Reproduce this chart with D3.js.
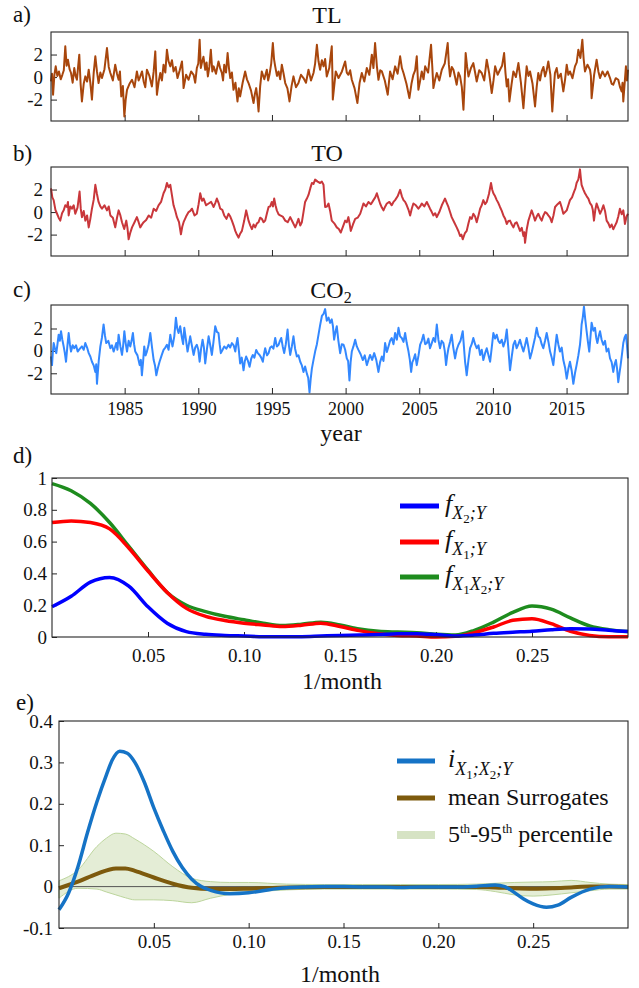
<html>
<head>
  <meta charset="utf-8">
  <title>TL TO CO2 spectra</title>
  <script src="https://cdnjs.cloudflare.com/ajax/libs/d3/7.8.5/d3.min.js"></script>
  <style>
    body { margin: 0; background: #fff; }
  </style>
</head>
<body>
<script>

// ---- data: standardized monthly anomalies [year, value] ----
var tlSeries = [[1980.00,-0.39],[1980.07,0.3],[1980.14,-1.57],[1980.23,0.2],[1980.32,0.95],[1980.43,0.1],[1980.54,0.5],[1980.66,-0.2],[1980.77,0.2],[1980.87,0.6],[1980.97,2.73],[1981.06,1.0],[1981.15,1.54],[1981.26,0.7],[1981.36,0.36],[1981.47,-0.5],[1981.58,0.8],[1981.67,0.1],[1981.76,-0.24],[1981.84,0.9],[1981.92,1.99],[1982.01,-0.6],[1982.10,-2.16],[1982.22,-0.6],[1982.33,0.06],[1982.45,-0.4],[1982.56,0.65],[1982.67,-0.5],[1982.78,-2.0],[1982.90,0.4],[1983.01,1.84],[1983.12,0.5],[1983.23,-0.53],[1983.35,0.4],[1983.46,-0.09],[1983.63,0.7],[1983.80,2.58],[1983.92,0.9],[1984.03,0.36],[1984.20,-0.3],[1984.36,1.1],[1984.48,0.3],[1984.59,-0.24],[1984.68,0.5],[1984.77,-1.72],[1984.88,-0.8],[1984.98,-3.5],[1985.07,-2.0],[1985.16,-1.13],[1985.33,-0.6],[1985.50,-0.24],[1985.67,-0.9],[1985.83,0.5],[1985.95,-0.3],[1986.06,0.06],[1986.18,0.5],[1986.29,-0.39],[1986.40,-0.9],[1986.51,0.65],[1986.68,0.1],[1986.85,-0.83],[1986.97,0.5],[1987.08,2.28],[1987.14,0.2],[1987.19,-1.57],[1987.31,-0.4],[1987.42,0.36],[1987.53,-0.3],[1987.64,1.1],[1987.76,0.4],[1987.87,2.43],[1987.98,1.4],[1988.10,0.95],[1988.21,1.5],[1988.32,0.5],[1988.46,0.9],[1988.59,-0.09],[1988.74,0.6],[1988.89,1.39],[1988.95,0.3],[1989.00,-0.98],[1989.17,0.2],[1989.34,-0.24],[1989.51,0.5],[1989.68,0.2],[1989.79,-0.5],[1989.90,0.8],[1990.00,1.2],[1990.09,3.32],[1990.17,0.8],[1990.24,1.24],[1990.35,1.8],[1990.47,0.65],[1990.56,1.3],[1990.65,0.06],[1990.75,0.9],[1990.85,2.43],[1990.95,0.5],[1991.04,0.95],[1991.20,0.3],[1991.37,1.39],[1991.48,0.8],[1991.60,0.36],[1991.68,-0.3],[1991.76,1.1],[1991.88,0.4],[1991.99,2.13],[1992.08,0.8],[1992.17,-0.09],[1992.28,0.4],[1992.39,-1.13],[1992.52,-0.5],[1992.66,-2.16],[1992.75,-1.0],[1992.84,-1.72],[1993.01,-0.5],[1993.18,0.5],[1993.30,-0.2],[1993.41,-0.53],[1993.58,-1.2],[1993.75,-2.31],[1993.84,-1.5],[1993.93,-0.98],[1994.01,-1.8],[1994.09,-3.05],[1994.20,-0.8],[1994.31,0.5],[1994.48,-0.2],[1994.65,0.65],[1994.74,-0.3],[1994.83,0.2],[1994.95,1.2],[1995.06,3.02],[1995.14,1.6],[1995.22,0.95],[1995.34,0.1],[1995.45,0.5],[1995.56,-0.2],[1995.67,1.1],[1995.79,0.3],[1995.90,-0.53],[1996.05,-1.0],[1996.19,-2.16],[1996.33,-0.8],[1996.46,0.06],[1996.63,-0.9],[1996.80,-0.53],[1996.97,0.2],[1997.14,-0.09],[1997.31,-0.5],[1997.48,0.65],[1997.65,-0.3],[1997.82,0.36],[1997.93,1.2],[1998.05,2.87],[1998.16,1.4],[1998.27,0.65],[1998.39,1.5],[1998.50,0.95],[1998.61,1.6],[1998.72,0.06],[1998.89,0.8],[1999.06,2.73],[1999.10,0.5],[1999.13,-2.0],[1999.33,0.5],[1999.52,-0.09],[1999.75,0.5],[1999.97,1.39],[2000.08,0.4],[2000.19,0.2],[2000.31,0.6],[2000.42,-0.24],[2000.61,-1.0],[2000.80,-2.31],[2000.95,-0.5],[2001.10,0.36],[2001.27,-0.4],[2001.44,0.8],[2001.61,0.2],[2001.78,1.99],[2001.89,0.8],[2002.00,3.02],[2002.12,1.0],[2002.23,-0.24],[2002.35,0.6],[2002.46,0.5],[2002.66,-0.3],[2002.86,-1.57],[2002.94,-0.5],[2003.02,0.5],[2003.19,-0.2],[2003.36,0.95],[2003.53,0.3],[2003.70,1.84],[2003.82,0.8],[2003.93,0.36],[2004.13,-0.6],[2004.33,-1.87],[2004.47,-0.6],[2004.60,0.2],[2004.72,0.6],[2004.83,1.84],[2004.89,0.2],[2004.94,-1.13],[2005.06,-0.3],[2005.17,0.5],[2005.29,-0.2],[2005.40,0.95],[2005.60,0.4],[2005.80,2.87],[2005.88,1.0],[2005.96,-0.98],[2006.08,-0.2],[2006.19,0.36],[2006.36,-0.3],[2006.53,0.65],[2006.73,1.2],[2006.93,3.02],[2007.01,1.1],[2007.09,0.06],[2007.21,0.9],[2007.32,0.65],[2007.43,0.0],[2007.54,-0.68],[2007.66,0.4],[2007.77,0.06],[2007.89,-0.9],[2008.00,-2.9],[2008.08,-0.5],[2008.15,2.13],[2008.25,0.9],[2008.34,0.06],[2008.51,0.8],[2008.67,1.24],[2008.79,0.4],[2008.90,-0.39],[2009.07,0.6],[2009.24,0.36],[2009.41,-0.3],[2009.58,1.54],[2009.75,0.3],[2009.92,-1.42],[2010.04,-0.3],[2010.15,0.95],[2010.32,0.2],[2010.48,0.65],[2010.62,1.0],[2010.76,2.13],[2010.85,0.4],[2010.94,-0.83],[2011.03,-0.2],[2011.12,-2.16],[2011.26,-0.7],[2011.39,0.5],[2011.56,0.0],[2011.73,1.24],[2011.90,-0.5],[2012.07,-2.76],[2012.18,-0.8],[2012.29,0.95],[2012.41,0.1],[2012.52,0.5],[2012.69,-0.6],[2012.86,-2.61],[2012.97,-0.9],[2013.08,0.36],[2013.20,-0.3],[2013.31,0.5],[2013.43,0.9],[2013.54,0.06],[2013.65,0.6],[2013.76,1.39],[2013.90,0.2],[2014.03,-3.05],[2014.12,-1.2],[2014.21,0.36],[2014.33,0.8],[2014.44,-0.09],[2014.61,0.3],[2014.78,-1.27],[2014.90,-0.2],[2015.01,1.1],[2015.12,0.2],[2015.23,0.5],[2015.40,-0.1],[2015.57,0.95],[2015.69,1.3],[2015.80,2.43],[2015.94,1.7],[2016.07,3.32],[2016.16,1.6],[2016.25,0.5],[2016.42,1.1],[2016.59,0.65],[2016.65,0.1],[2016.70,-1.87],[2016.87,0.2],[2017.04,1.54],[2017.16,0.5],[2017.27,-0.09],[2017.44,0.5],[2017.61,0.06],[2017.78,0.5],[2017.95,-0.09],[2018.06,-0.6],[2018.17,-0.68],[2018.34,-0.1],[2018.51,-0.24],[2018.63,-0.9],[2018.74,-1.27],[2018.80,-0.5],[2018.85,-2.16],[2018.94,-0.6],[2019.03,0.95],[2019.10,-0.3],[2019.17,0.65]];

var toSeries = [[1980.00,2.1],[1980.09,1.3],[1980.18,1.06],[1980.30,0.2],[1980.41,-0.15],[1980.52,-0.5],[1980.63,-0.76],[1980.75,-0.1],[1980.86,0.15],[1980.97,0.6],[1981.09,0.45],[1981.15,0.9],[1981.20,-0.3],[1981.31,0.5],[1981.42,0.3],[1981.54,0.6],[1981.65,-0.15],[1981.80,0.4],[1981.94,1.82],[1982.02,0.3],[1982.10,-0.45],[1982.22,0.1],[1982.33,-0.76],[1982.45,-0.3],[1982.56,-1.36],[1982.67,-0.6],[1982.78,0.3],[1982.90,1.1],[1983.01,2.42],[1983.12,1.6],[1983.23,0.9],[1983.35,0.5],[1983.46,0.3],[1983.63,0.6],[1983.80,0.15],[1983.92,0.5],[1984.03,-0.3],[1984.20,-0.5],[1984.36,-1.36],[1984.48,-0.5],[1984.59,0.15],[1984.71,-0.3],[1984.82,-0.9],[1984.97,-1.5],[1985.11,-0.76],[1985.19,-1.4],[1985.27,-2.42],[1985.39,-1.8],[1985.50,-1.36],[1985.67,-0.9],[1985.83,-0.45],[1985.95,-0.9],[1986.06,-1.36],[1986.18,-1.1],[1986.29,-0.9],[1986.46,-0.7],[1986.63,-0.3],[1986.80,-0.5],[1986.97,0.3],[1987.14,0.1],[1987.30,0.6],[1987.47,0.9],[1987.64,1.67],[1987.76,2.0],[1987.87,2.58],[1987.99,2.2],[1988.10,2.42],[1988.21,1.5],[1988.32,0.6],[1988.44,0.1],[1988.55,-0.45],[1988.69,-0.9],[1988.82,-1.97],[1988.91,-1.3],[1989.00,-0.9],[1989.17,-0.4],[1989.34,0],[1989.46,0.1],[1989.57,0.3],[1989.74,-0.3],[1989.90,-0.15],[1990.02,0.7],[1990.13,1.67],[1990.25,1.0],[1990.36,1.2],[1990.53,0.6],[1990.70,0.76],[1990.87,0.9],[1991.04,0.45],[1991.15,0.8],[1991.26,1.2],[1991.38,0.8],[1991.49,0.3],[1991.63,0.2],[1991.76,-0.3],[1991.91,-0.6],[1992.05,-0.15],[1992.17,-0.4],[1992.28,-0.76],[1992.40,-1.2],[1992.51,-1.67],[1992.62,-2.0],[1992.73,-2.27],[1992.85,-1.9],[1992.96,-1.67],[1993.11,-0.8],[1993.25,0.15],[1993.33,-0.3],[1993.41,-0.76],[1993.53,-1.2],[1993.64,-1.52],[1993.75,-1.1],[1993.86,-1.36],[1993.98,-1.0],[1994.09,-0.9],[1994.20,-0.5],[1994.31,-0.6],[1994.43,-0.9],[1994.54,-0.76],[1994.66,-0.1],[1994.77,0.45],[1994.88,0.5],[1994.99,0.9],[1995.07,0.5],[1995.15,1.2],[1995.24,0.6],[1995.33,0.15],[1995.45,-0.2],[1995.56,-0.3],[1995.73,-0.4],[1995.90,-0.76],[1996.07,-0.9],[1996.24,-0.45],[1996.41,-0.9],[1996.58,-1.36],[1996.69,-1.0],[1996.80,-0.6],[1996.92,-1.2],[1997.03,-0.9],[1997.14,0.0],[1997.25,0.9],[1997.37,1.2],[1997.48,1.52],[1997.60,2.1],[1997.71,2.58],[1997.82,2.5],[1997.93,2.88],[1998.10,2.7],[1998.27,2.58],[1998.39,2.7],[1998.50,2.42],[1998.56,1.3],[1998.61,0.45],[1998.73,0.5],[1998.84,0.76],[1998.95,0.1],[1999.06,-0.76],[1999.23,-1.0],[1999.40,-1.36],[1999.54,-1.5],[1999.67,-1.82],[1999.82,-1.3],[1999.97,-0.76],[2000.08,-0.9],[2000.19,-0.45],[2000.27,-1.0],[2000.35,-1.67],[2000.50,-1.1],[2000.65,-0.6],[2000.82,-0.5],[2000.99,-0.15],[2001.10,0.3],[2001.21,0.76],[2001.38,0.5],[2001.55,0.9],[2001.72,0.7],[2001.89,1.06],[2002.01,1.3],[2002.12,1.67],[2002.23,1.2],[2002.34,0.76],[2002.46,0.4],[2002.57,0.15],[2002.69,0.5],[2002.80,0.76],[2002.97,0.9],[2003.13,0.6],[2003.25,0.9],[2003.36,1.06],[2003.53,1.4],[2003.70,1.97],[2003.82,1.4],[2003.93,1.06],[2004.04,0.9],[2004.15,0.6],[2004.27,0.2],[2004.38,-0.3],[2004.49,0.3],[2004.60,0.76],[2004.77,0.6],[2004.94,0.3],[2005.06,0.5],[2005.17,0.76],[2005.34,0.5],[2005.51,0.9],[2005.62,0.6],[2005.73,0.3],[2005.85,0.0],[2005.96,-0.3],[2006.08,-0.1],[2006.19,-0.45],[2006.36,0.0],[2006.53,0.6],[2006.64,0.9],[2006.75,1.2],[2006.87,0.8],[2006.98,0.45],[2007.09,0.0],[2007.20,-0.45],[2007.37,-0.9],[2007.54,-1.36],[2007.66,-1.7],[2007.77,-2.12],[2007.86,-2.0],[2007.95,-2.42],[2008.09,-1.9],[2008.22,-1.67],[2008.34,-1.0],[2008.45,-0.45],[2008.56,-0.6],[2008.67,-0.15],[2008.79,-0.4],[2008.90,-0.9],[2009.02,-0.3],[2009.13,0.3],[2009.24,0.6],[2009.35,1.06],[2009.47,0.7],[2009.58,0.9],[2009.73,1.6],[2009.87,2.58],[2009.95,2.0],[2010.03,1.67],[2010.15,1.4],[2010.26,1.06],[2010.37,0.8],[2010.48,0.45],[2010.60,0.1],[2010.71,-0.3],[2010.83,-0.6],[2010.94,-1.06],[2011.05,-0.8],[2011.16,-0.76],[2011.28,-1.1],[2011.39,-1.36],[2011.50,-1.0],[2011.61,-0.9],[2011.73,-1.3],[2011.84,-1.67],[2011.96,-1.4],[2012.07,-2.12],[2012.13,-1.8],[2012.18,-2.73],[2012.30,-1.5],[2012.41,-0.76],[2012.52,-0.3],[2012.63,0.15],[2012.75,-0.3],[2012.86,-0.76],[2012.97,-0.4],[2013.08,-0.15],[2013.20,-0.5],[2013.31,-0.76],[2013.43,-0.3],[2013.54,0],[2013.65,-0.1],[2013.76,-0.3],[2013.88,-0.5],[2013.99,-0.9],[2014.11,-0.3],[2014.22,0.45],[2014.39,0.7],[2014.55,0.9],[2014.67,0.4],[2014.78,-0.15],[2014.90,0.0],[2015.01,0.15],[2015.12,0.6],[2015.23,1.06],[2015.37,1.3],[2015.51,1.82],[2015.60,2.1],[2015.68,2.58],[2015.80,2.9],[2015.91,3.79],[2015.97,3.0],[2016.02,2.42],[2016.14,2.0],[2016.25,1.67],[2016.37,1.4],[2016.48,1.2],[2016.59,0.8],[2016.70,0.6],[2016.78,0.2],[2016.86,-0.76],[2016.95,0.2],[2017.04,0.76],[2017.16,0.3],[2017.27,-0.15],[2017.39,0.2],[2017.50,0.6],[2017.61,0.1],[2017.72,-0.76],[2017.84,-1.0],[2017.95,-1.36],[2018.06,-1.1],[2018.17,-1.52],[2018.29,-1.2],[2018.40,-0.9],[2018.51,-0.4],[2018.62,0.3],[2018.74,-0.2],[2018.85,0.15],[2018.91,-0.4],[2018.96,-1.06],[2019.07,-0.4],[2019.17,-0.15]];

var co2Series = [[1980.00,-0.5],[1980.07,-1.27],[1980.12,-0.2],[1980.18,0.7],[1980.27,0.2],[1980.36,-0.2],[1980.44,0.6],[1980.52,1.45],[1980.60,0.9],[1980.68,1.76],[1980.77,1.0],[1980.86,0.4],[1980.94,-0.2],[1981.02,-0.97],[1981.11,0.4],[1981.20,1.6],[1981.28,0.6],[1981.36,-0.06],[1981.47,0.5],[1981.58,0.24],[1981.70,0.5],[1981.81,-0.06],[1981.96,0.2],[1982.10,0.4],[1982.22,0.1],[1982.33,0.7],[1982.45,0.3],[1982.56,-0.2],[1982.67,-0.5],[1982.78,-0.97],[1982.90,-1.3],[1983.01,-1.88],[1983.07,-1.2],[1983.12,-2.94],[1983.24,-0.9],[1983.35,0.4],[1983.46,1.2],[1983.57,2.36],[1983.66,1.4],[1983.75,0.7],[1983.89,0.9],[1984.03,0.24],[1984.14,0.5],[1984.25,-0.06],[1984.34,0.3],[1984.43,0.7],[1984.51,0.1],[1984.59,1.45],[1984.71,0.4],[1984.82,-0.36],[1984.90,0.5],[1984.98,1.76],[1985.07,0.7],[1985.16,-0.06],[1985.27,0.9],[1985.38,0.4],[1985.47,0.9],[1985.56,1.6],[1985.64,0.6],[1985.72,-0.06],[1985.87,-0.4],[1986.02,-1.27],[1986.10,-0.8],[1986.17,-2.18],[1986.25,-1.0],[1986.33,0.4],[1986.42,-0.4],[1986.51,-0.06],[1986.62,0.5],[1986.74,1.6],[1986.86,0.3],[1986.97,-0.82],[1987.06,-1.3],[1987.15,-2.18],[1987.26,-1.5],[1987.37,-0.97],[1987.51,-0.4],[1987.64,0.09],[1987.76,0.3],[1987.87,0.55],[1987.98,0.1],[1988.10,1.45],[1988.17,0.9],[1988.25,0.4],[1988.37,1.3],[1988.48,2.97],[1988.57,2.0],[1988.66,1.6],[1988.77,2.2],[1988.89,1.15],[1988.97,0.6],[1989.05,2.06],[1989.16,1.0],[1989.27,-0.06],[1989.36,0.6],[1989.45,1.3],[1989.56,0.5],[1989.68,-0.36],[1989.79,0.3],[1989.90,0.55],[1990.00,0.1],[1990.09,-0.97],[1990.19,0.2],[1990.29,1.0],[1990.38,0.3],[1990.47,-1.12],[1990.58,0.1],[1990.70,1.3],[1990.81,0.5],[1990.92,-0.36],[1991.03,0.8],[1991.15,2.21],[1991.26,1.7],[1991.37,1.6],[1991.45,0.6],[1991.53,-0.2],[1991.65,0.1],[1991.76,0.4],[1991.90,0.2],[1992.05,0.55],[1992.16,0.3],[1992.28,0.7],[1992.40,0.5],[1992.51,-0.06],[1992.58,0.6],[1992.66,1.15],[1992.75,0.1],[1992.84,-1.12],[1992.95,-0.6],[1993.07,-1.73],[1993.16,-0.9],[1993.25,-0.5],[1993.37,-0.9],[1993.48,-1.42],[1993.59,-0.7],[1993.70,-0.36],[1993.81,-0.6],[1993.93,0.09],[1994.04,-0.2],[1994.16,-0.36],[1994.27,-0.6],[1994.38,-0.97],[1994.46,-0.3],[1994.54,0.24],[1994.66,-0.4],[1994.77,-0.2],[1994.88,0.3],[1994.99,0.4],[1995.10,0.2],[1995.22,1.15],[1995.33,0.4],[1995.45,0.55],[1995.54,0.9],[1995.63,1.15],[1995.73,0.4],[1995.83,-0.2],[1995.94,0.6],[1996.06,1.91],[1996.15,0.5],[1996.24,-0.36],[1996.35,0.4],[1996.46,1.3],[1996.57,0.2],[1996.69,-0.5],[1996.80,-0.4],[1996.92,-0.97],[1997.03,-1.3],[1997.14,-1.88],[1997.25,-1.4],[1997.37,-2.03],[1997.46,-2.4],[1997.55,-3.7],[1997.63,-2.5],[1997.71,-1.58],[1997.82,-0.8],[1997.93,-0.06],[1998.05,0.6],[1998.16,1.45],[1998.27,2.3],[1998.39,3.12],[1998.50,3.3],[1998.61,3.73],[1998.72,2.7],[1998.84,2.97],[1998.95,2.5],[1999.06,2.82],[1999.14,2.2],[1999.22,1.0],[1999.31,1.7],[1999.40,2.21],[1999.51,0.9],[1999.63,-0.2],[1999.74,0.6],[1999.86,0.55],[1999.97,0.1],[2000.08,-0.67],[2000.17,-0.9],[2000.26,-2.64],[2000.34,-1.0],[2000.42,-0.06],[2000.53,0.4],[2000.65,1.0],[2000.76,0.4],[2000.87,0.09],[2001.02,-0.3],[2001.17,-0.82],[2001.30,-0.4],[2001.44,-1.27],[2001.55,-0.8],[2001.66,-0.36],[2001.80,-0.8],[2001.94,-0.2],[2002.08,-0.8],[2002.23,-1.88],[2002.34,-1.0],[2002.46,-0.5],[2002.57,-0.9],[2002.68,0.7],[2002.80,-0.1],[2002.91,0.4],[2003.02,0.9],[2003.13,1.15],[2003.25,0.6],[2003.36,1.6],[2003.48,1.0],[2003.59,2.06],[2003.70,1.3],[2003.81,1.15],[2003.93,0.8],[2004.04,1.6],[2004.15,0.7],[2004.27,-0.06],[2004.36,-0.8],[2004.45,-1.88],[2004.53,-1.0],[2004.60,-0.82],[2004.72,-0.3],[2004.83,-1.27],[2004.95,-0.4],[2005.06,0.55],[2005.17,0.9],[2005.28,1.45],[2005.40,0.6],[2005.51,0.7],[2005.62,1.1],[2005.73,0.24],[2005.85,0.7],[2005.96,1.15],[2006.08,0.8],[2006.19,2.36],[2006.30,1.0],[2006.41,0.24],[2006.52,0.9],[2006.64,0.7],[2006.73,0.0],[2006.82,-1.27],[2006.90,-0.4],[2006.98,0.24],[2007.09,0.8],[2007.20,1.45],[2007.31,0.3],[2007.43,-0.67],[2007.54,0.1],[2007.66,0.55],[2007.80,0.9],[2007.95,1.76],[2008.03,0.4],[2008.11,-0.97],[2008.16,-1.5],[2008.22,-2.18],[2008.34,-0.8],[2008.45,0.24],[2008.56,0.6],[2008.67,1.15],[2008.79,0.6],[2008.90,0.24],[2009.02,0.5],[2009.13,-0.36],[2009.24,0.1],[2009.35,-0.82],[2009.47,-0.2],[2009.58,0.24],[2009.70,-0.4],[2009.81,-0.97],[2009.92,0.3],[2010.03,1.6],[2010.15,1.1],[2010.26,1.45],[2010.37,0.9],[2010.48,0.7],[2010.60,1.0],[2010.71,0.4],[2010.83,0.9],[2010.94,1.91],[2011.05,0.2],[2011.16,-1.73],[2011.28,-0.5],[2011.39,0.55],[2011.50,0.9],[2011.61,0.24],[2011.73,0.6],[2011.84,1.0],[2011.96,0.4],[2012.07,-0.06],[2012.18,0.5],[2012.29,1.15],[2012.41,0.3],[2012.52,-0.67],[2012.64,-0.1],[2012.75,0.55],[2012.86,1.2],[2012.97,2.06],[2013.09,1.3],[2013.20,1.15],[2013.31,0.6],[2013.42,0.24],[2013.54,0.9],[2013.65,1.6],[2013.77,0.8],[2013.88,-0.06],[2013.99,-0.6],[2014.10,-1.27],[2014.22,0.2],[2014.33,1.45],[2014.44,0.6],[2014.55,-0.06],[2014.67,0.3],[2014.78,-0.82],[2014.90,-1.5],[2015.01,-2.48],[2015.12,-1.6],[2015.23,-0.97],[2015.35,-1.8],[2015.46,-2.94],[2015.57,-2.0],[2015.68,-1.27],[2015.80,-0.4],[2015.91,0.55],[2015.97,1.4],[2016.02,2.36],[2016.10,3.0],[2016.18,3.95],[2016.27,2.8],[2016.36,1.76],[2016.45,0.8],[2016.54,-0.06],[2016.62,1.2],[2016.70,2.52],[2016.82,1.8],[2016.93,2.06],[2017.01,1.2],[2017.09,0.7],[2017.18,1.3],[2017.27,1.76],[2017.38,1.0],[2017.49,0.55],[2017.61,0.9],[2017.72,-0.06],[2017.84,0.2],[2017.95,-0.67],[2018.06,-1.0],[2018.17,-1.88],[2018.26,-1.2],[2018.35,-0.82],[2018.43,-1.6],[2018.51,-2.79],[2018.59,-2.0],[2018.67,-1.27],[2018.76,-0.3],[2018.85,0.7],[2018.94,1.2],[2019.03,1.45],[2019.10,0.5],[2019.17,-0.67]];

var yearTicks = [1985, 1990, 1995, 2000, 2005, 2010, 2015];
var tsTicks = [-2, 0, 2];

// ---- data: panel d, spectra vs frequency (1/month) ----
var freqD = [0,0.01,0.02,0.03,0.04,0.05,0.06,0.07,0.08,0.09,0.10,0.11,0.12,0.13,0.14,0.15,0.16,0.17,0.18,0.19,0.20,0.21,0.22,0.23,0.24,0.25,0.26,0.27,0.28,0.29,0.30];
var fX2Y   = [0.19,0.256,0.345,0.375,0.32,0.19,0.087,0.034,0.017,0.01,0.006,0.002,0.002,0.002,0.006,0.01,0.012,0.015,0.021,0.021,0.015,0.006,0.012,0.023,0.03,0.036,0.046,0.052,0.05,0.042,0.034];
var fX1Y   = [0.72,0.73,0.72,0.68,0.56,0.415,0.28,0.18,0.13,0.104,0.087,0.076,0.066,0.074,0.087,0.066,0.04,0.021,0.01,0.006,0.0,0.004,0.027,0.063,0.105,0.115,0.084,0.036,0.01,0.002,0.002];
var fX1X2Y = [0.965,0.92,0.84,0.72,0.57,0.42,0.28,0.20,0.16,0.13,0.108,0.087,0.072,0.08,0.093,0.076,0.05,0.036,0.031,0.027,0.017,0.012,0.042,0.094,0.155,0.195,0.175,0.12,0.07,0.046,0.034];
var dTicks = [0, 0.2, 0.4, 0.6, 0.8, 1];
var dTickLabels = ['0', '0.2', '0.4', '0.6', '0.8', '1'];

// ---- data: panel e, interaction information and surrogates ----
var iX1X2Y = [[0,-0.056],[0.005,-0.016],[0.01,0.048],[0.015,0.13],[0.02,0.205],[0.025,0.27],[0.028,0.305],[0.032,0.327],[0.036,0.322],[0.04,0.30],[0.045,0.252],[0.05,0.19],[0.055,0.135],[0.06,0.085],[0.065,0.046],[0.07,0.018],[0.075,0.0],[0.08,-0.009],[0.09,-0.017],[0.10,-0.015],[0.11,-0.008],[0.12,-0.003],[0.13,-0.001],[0.14,0.0],[0.15,0.0],[0.16,-0.001],[0.17,-0.001],[0.18,-0.002],[0.19,-0.001],[0.20,-0.001],[0.21,-0.001],[0.22,0.001],[0.23,0.004],[0.235,0.0],[0.24,-0.014],[0.245,-0.03],[0.25,-0.042],[0.257,-0.05],[0.263,-0.045],[0.27,-0.026],[0.28,-0.006],[0.29,0.0],[0.30,-0.001]];
var meanSurr = [[0,-0.004],[0.01,0.012],[0.02,0.031],[0.03,0.044],[0.035,0.044],[0.04,0.038],[0.05,0.022],[0.06,0.007],[0.07,-0.003],[0.08,-0.006],[0.09,-0.006],[0.10,-0.005],[0.12,-0.002],[0.14,-0.001],[0.16,-0.001],[0.18,-0.001],[0.20,-0.001],[0.22,-0.001],[0.23,-0.002],[0.24,-0.004],[0.25,-0.005],[0.26,-0.004],[0.27,-0.002],[0.28,0.0],[0.29,0.0],[0.30,-0.001]];
var bandFreq = [0,0.01,0.02,0.025,0.03,0.035,0.04,0.05,0.06,0.07,0.08,0.09,0.10,0.12,0.14,0.16,0.18,0.20,0.22,0.23,0.24,0.25,0.26,0.27,0.28,0.29,0.30];
var p95 = [0.014,0.04,0.097,0.117,0.129,0.127,0.115,0.085,0.048,0.02,0.012,0.01,0.01,0.006,0.005,0.005,0.005,0.005,0.006,0.008,0.01,0.011,0.012,0.015,0.01,0.006,0.005];
var p5  = [-0.028,-0.004,-0.006,-0.013,-0.02,-0.027,-0.032,-0.032,-0.034,-0.039,-0.028,-0.019,-0.014,-0.008,-0.006,-0.006,-0.006,-0.006,-0.007,-0.012,-0.02,-0.023,-0.02,-0.015,-0.01,-0.006,-0.006];
var eTicks = [-0.1, 0, 0.1, 0.2, 0.3, 0.4];
var freqTicks = [0.05, 0.10, 0.15, 0.20, 0.25];

// ---- drawing ----
var width = 639, height = 988;
var ink = '#262626';
var serif = "'Liberation Serif', 'Times New Roman', Times, serif";

var svg = d3.select('body')
  .append('svg')
  .attr('width', width)
  .attr('height', height)
  .attr('font-family', serif)
  .style('font-family', serif);

function styleAxis(g, size) {
  g.attr('font-family', serif).attr('font-size', null);
  g.select('.domain').remove();
  g.selectAll('.tick line').attr('stroke', ink);
  g.selectAll('.tick text')
    .style('font-family', serif)
    .style('font-size', size + 'px')
    .attr('fill', '#111');
}

function frame(x, y) {
  svg.append('rect')
    .attr('x', x.range()[0]).attr('y', y.range()[1])
    .attr('width', x.range()[1] - x.range()[0])
    .attr('height', y.range()[0] - y.range()[1])
    .attr('fill', 'none').attr('stroke', ink).attr('stroke-width', 1.1);
}

function label(txt, x, y, size) {
  return svg.append('text').attr('x', x).attr('y', y)
    .style('font-family', serif)
    .style('font-size', size + 'px')
    .attr('fill', '#111')
    .text(txt);
}

// rich text: parts = [text, size, italic, dy]
function rich(x, y, parts) {
  var t = svg.append('text').attr('x', x).attr('y', y)
    .style('font-family', serif).attr('fill', '#111');
  parts.forEach(function(p) {
    t.append('tspan')
      .attr('dy', p[3] || 0)
      .style('font-size', p[1] + 'px')
      .style('font-style', p[2] ? 'italic' : 'normal')
      .text(p[0]);
  });
  return t;
}

var xYear = d3.scaleLinear().domain([1980, 2019.17]).range([51, 628]);

var panels = [
  { tag: 'a)', tagY: 22, title: 'TL', data: tlSeries, color: '#a8460c', top: 32, bottom: 121, dom: [-3.9, 4.0], titleY: 23 },
  { tag: 'b)', tagY: 161, title: 'TO', data: toSeries, color: '#c9373b', top: 167, bottom: 256, dom: [-3.9, 4.0], titleY: 161 },
  { tag: 'c)', tagY: 297, title: 'CO', data: co2Series, color: '#3388ff', top: 305, bottom: 394, dom: [-3.85, 4.1], titleY: 298, sub: '2' }
];

panels.forEach(function(p, i) {
  var y = d3.scaleLinear().domain(p.dom).range([p.bottom, p.top]);

  svg.append('g').attr('transform', 'translate(51,0)')
    .call(d3.axisLeft(y).tickValues(tsTicks).tickSize(-6).tickPadding(8).tickFormat(function(d){ return String(d); }))
    .call(styleAxis, 19);

  svg.append('g').attr('transform', 'translate(0,' + p.bottom + ')')
    .call(d3.axisBottom(xYear).tickValues(yearTicks).tickSize(-6).tickPadding(8).tickFormat(i === 2 ? d3.format('d') : ''))
    .call(styleAxis, 18);

  svg.append('path')
    .datum(p.data)
    .attr('fill', 'none')
    .attr('stroke', p.color)
    .attr('stroke-width', 2)
    .attr('stroke-linejoin', 'round')
    .attr('d', d3.line().x(function(d){ return xYear(d[0]); }).y(function(d){ return y(d[1]); }));

  frame(xYear, y);

  label(p.tag, 13, p.tagY, 23);
  if (p.sub) {
    rich(331, p.titleY, [[p.title, 24], [p.sub, 16, false, 5]]).attr('text-anchor', 'middle');
  } else {
    label(p.title, 327, p.titleY, 24).attr('text-anchor', 'middle');
  }
});

label('year', 341, 441, 24).attr('text-anchor', 'middle');

// ---- panel d ----
var xd = d3.scaleLinear().domain([0, 0.3]).range([52, 628]);
var yd = d3.scaleLinear().domain([0, 1]).range([637, 478]);

svg.append('g').attr('transform', 'translate(52,0)')
  .call(d3.axisLeft(yd).tickValues(dTicks).tickSize(-5).tickPadding(5).tickFormat(function(d, i){ return dTickLabels[i]; }))
  .call(styleAxis, 19);
svg.append('g').attr('transform', 'translate(0,637)')
  .call(d3.axisBottom(xd).tickValues(freqTicks).tickSize(-5).tickPadding(12).tickFormat(d3.format('.2f')))
  .call(styleAxis, 19);

var lineD = d3.line()
  .x(function(d, i){ return xd(freqD[i]); })
  .y(function(d){ return yd(d); })
  .curve(d3.curveMonotoneX);

// green first so red and blue sit on top where they overlap
[[fX1X2Y, '#1e8c1e'], [fX1Y, '#ff0000'], [fX2Y, '#0000ff']].forEach(function(s) {
  svg.append('path').datum(s[0])
    .attr('fill', 'none').attr('stroke', s[1]).attr('stroke-width', 3.5)
    .attr('d', lineD);
});
frame(xd, yd);
label('d)', 13, 463, 23);
label('1/month', 342, 689, 24).attr('text-anchor', 'middle');

var legD = [
  { color: '#0000ff', y: 506, parts: [['f', 26, true], ['X', 18, true, 7], ['2', 13, false, 4], [';Y', 18, true, -4]] },
  { color: '#ff0000', y: 542, parts: [['f', 26, true], ['X', 18, true, 7], ['1', 13, false, 4], [';Y', 18, true, -4]] },
  { color: '#1e8c1e', y: 577, parts: [['f', 26, true], ['X', 18, true, 7], ['1', 13, false, 4], ['X', 18, true, -4], ['2', 13, false, 4], [';Y', 18, true, -4]] }
];
legD.forEach(function(l) {
  svg.append('line').attr('x1', 400).attr('x2', 439).attr('y1', l.y).attr('y2', l.y)
    .attr('stroke', l.color).attr('stroke-width', 5);
  rich(445, l.y + 6, l.parts);
});

// ---- panel e ----
var xe = d3.scaleLinear().domain([0, 0.3]).range([59, 628]);
var ye = d3.scaleLinear().domain([-0.1, 0.4]).range([928, 721]);

svg.append('g').attr('transform', 'translate(59,0)')
  .call(d3.axisLeft(ye).tickValues(eTicks).tickSize(-5).tickPadding(6).tickFormat(function(d){ return String(d); }))
  .call(styleAxis, 19);
svg.append('g').attr('transform', 'translate(0,928)')
  .call(d3.axisBottom(xe).tickValues(freqTicks).tickSize(-5).tickPadding(7).tickFormat(d3.format('.2f')))
  .call(styleAxis, 19);

svg.append('path')
  .datum(bandFreq)
  .attr('fill', '#e4edd6')
  .attr('stroke', '#bcd59c')
  .attr('stroke-width', 1)
  .attr('d', d3.area()
    .x(function(d){ return xe(d); })
    .y0(function(d, i){ return ye(p5[i]); })
    .y1(function(d, i){ return ye(p95[i]); })
    .curve(d3.curveMonotoneX));

svg.append('line')
  .attr('x1', xe(0)).attr('x2', xe(0.3)).attr('y1', ye(0)).attr('y2', ye(0))
  .attr('stroke', '#555').attr('stroke-width', 1);

var lineE = d3.line()
  .x(function(d){ return xe(d[0]); })
  .y(function(d){ return ye(d[1]); })
  .curve(d3.curveMonotoneX);

svg.append('path').datum(meanSurr)
  .attr('fill', 'none').attr('stroke', '#7d5a0d').attr('stroke-width', 4)
  .attr('d', lineE);
svg.append('path').datum(iX1X2Y)
  .attr('fill', 'none').attr('stroke', '#1573c6').attr('stroke-width', 3.5)
  .attr('d', lineE);

frame(xe, ye);
label('e)', 16, 710, 23);
label('1/month', 340, 982, 24).attr('text-anchor', 'middle');

svg.append('line').attr('x1', 397).attr('x2', 435).attr('y1', 761).attr('y2', 761)
  .attr('stroke', '#1573c6').attr('stroke-width', 5);
rich(448, 767, [['i', 26, true], ['X', 18, true, 8], ['1', 13, false, 4], [';X', 18, true, -4], ['2', 13, false, 4], [';Y', 18, true, -4]]);

svg.append('line').attr('x1', 397).attr('x2', 435).attr('y1', 798).attr('y2', 798)
  .attr('stroke', '#7d5a0d').attr('stroke-width', 5);
label('mean Surrogates', 448, 805, 24);

svg.append('rect').attr('x', 397).attr('y', 831).attr('width', 38).attr('height', 8)
  .attr('fill', '#d6e3c4');
rich(448, 842, [['5', 24], ['th', 13, false, -9], ['-95', 24, false, 9], ['th', 13, false, -9], [' percentile', 24, false, 9]]);

</script>
</body>
</html>
